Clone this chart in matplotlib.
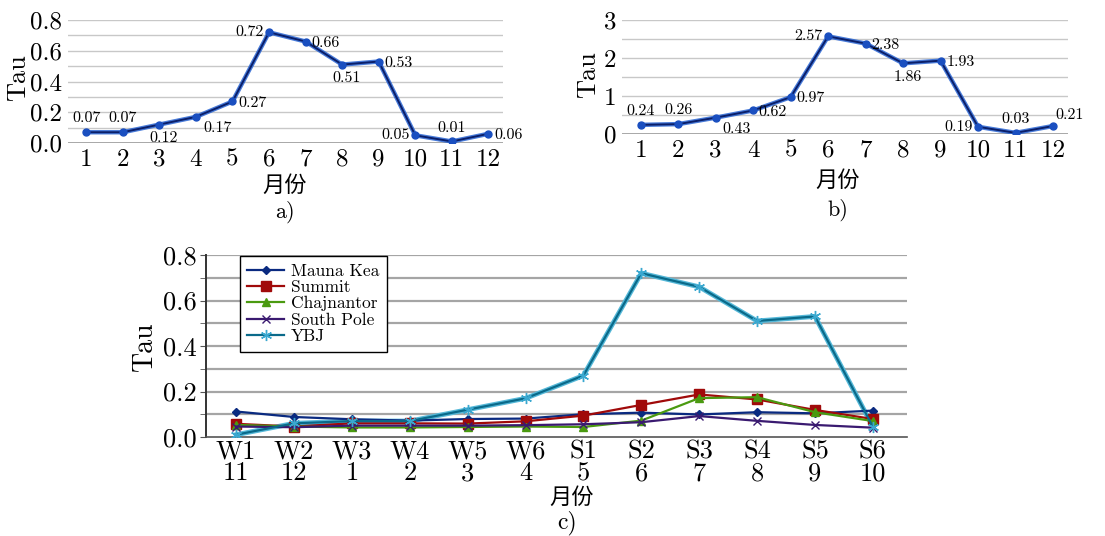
import numpy as np
import matplotlib
matplotlib.use('Agg')
import matplotlib.pyplot as plt

plt.rcParams['font.family'] = ['cmr10', 'Noto Sans CJK SC']
plt.rcParams['axes.unicode_minus'] = False
plt.rcParams['mathtext.fontset'] = 'cm'

months = [1, 2, 3, 4, 5, 6, 7, 8, 9, 10, 11, 12]
tau_a = [0.07, 0.07, 0.12, 0.17, 0.27, 0.72, 0.66, 0.51, 0.53, 0.05, 0.01, 0.06]
tau_b = [0.24, 0.26, 0.43, 0.62, 0.97, 2.57, 2.38, 1.86, 1.93, 0.19, 0.03, 0.21]
# where the value label sits for each point
label_pos = ['up', 'up', 'down', 'downright', 'right', 'left', 'right', 'down', 'right', 'left', 'up', 'right']
label_pos_b = ['up', 'up', 'downright', 'right', 'right', 'left', 'right', 'down', 'right', 'left', 'up', 'upright']

seasons = ['W1', 'W2', 'W3', 'W4', 'W5', 'W6', 'S1', 'S2', 'S3', 'S4', 'S5', 'S6']
season_months = [11, 12, 1, 2, 3, 4, 5, 6, 7, 8, 9, 10]
mauna_kea = [0.112, 0.088, 0.078, 0.072, 0.079, 0.081, 0.100, 0.107, 0.099, 0.109, 0.104, 0.116]
summit = [0.058, 0.046, 0.060, 0.060, 0.059, 0.069, 0.094, 0.141, 0.187, 0.165, 0.119, 0.079]
chajnantor = [0.053, 0.046, 0.042, 0.042, 0.044, 0.046, 0.044, 0.072, 0.171, 0.175, 0.109, 0.070]
south_pole = [0.046, 0.043, 0.050, 0.050, 0.050, 0.052, 0.056, 0.065, 0.092, 0.071, 0.053, 0.041]
ybj = [0.01, 0.06, 0.07, 0.07, 0.12, 0.17, 0.27, 0.72, 0.66, 0.51, 0.53, 0.045]

W, H = 1105, 536
fig = plt.figure(figsize=(W / 100, H / 100), dpi=100)

def px_axes(l, r, t, b):
    return fig.add_axes([l / W, 1 - b / H, (r - l) / W, (b - t) / H])

offsets = {'up': (0, 5, 'center', 'bottom'), 'down': (3, -5, 'center', 'top'),
           'downright': (5, -3, 'left', 'top'), 'right': (4, -1, 'left', 'center'),
           'left': (-4, 0, 'right', 'center'), 'upright': (2, 3, 'left', 'bottom')}

def month_panel(ax, vals, pos, ymax, ystep, ylabels, letter, xl, tx):
    ax.set_xlim(0.5, 12.4)
    ax.set_ylim(0, ymax)
    for g in np.arange(ystep, ymax + ystep / 2, ystep):
        ax.axhline(g, color='#c8c8c8', lw=1, zorder=0)
    ax.axhline(0, color='#9a9a9a', lw=1.2, zorder=0)
    ax.plot(months, vals, color='#1a5ad0', lw=3.2, zorder=2, alpha=0.8)
    ax.plot(months, vals, color='#0a1f6a', lw=1.4, marker='o', ms=5,
            mfc='#1a4fc0', mec='#1a4fc0', zorder=3)
    for m, v, p in zip(months, vals, pos):
        dx, dy, ha, va = offsets[p]
        ax.annotate('%.2f' % v, (m, v), xytext=(dx, dy), textcoords='offset points',
                    ha=ha, va=va, fontsize=11.5)
    for s in ['top', 'right', 'left', 'bottom']:
        ax.spines[s].set_visible(False)
    ax.set_xticks(months)
    ax.set_yticks(ylabels)
    ax.set_yticklabels(ylabels if isinstance(ylabels[0], int) else ['%.1f' % y for y in ylabels])
    ax.tick_params(length=0, labelsize=18, pad=4)
    fig.text(tx / W, 1 - xl[0] / H, '月份', ha='center', va='center', fontsize=16,
             family='Noto Sans CJK SC', fontweight='light')
    fig.text(tx / W, 1 - xl[1] / H, letter, ha='center', va='center', fontsize=16)

ax_a = px_axes(68, 503, 20, 143)
month_panel(ax_a, tau_a, label_pos, 0.8, 0.1, [0.0, 0.2, 0.4, 0.6, 0.8], 'a)', (185, 212), 285)
fig.text(18 / W, 1 - 78 / H, 'Tau', rotation=90, ha='center', va='center', fontsize=19)

ax_b = px_axes(622, 1068, 20, 134)
month_panel(ax_b, tau_b, label_pos_b, 3, 0.5, [0, 1, 2, 3], 'b)', (180, 210), 838)
fig.text(588 / W, 1 - 75 / H, 'Tau', rotation=90, ha='center', va='center', fontsize=19)

# panel c
ax_c = px_axes(206, 907, 255, 437)
x = np.arange(len(seasons))
ax_c.set_xlim(-0.52, 11.59)
ax_c.set_ylim(0, 0.8)
for g in np.arange(0.1, 0.85, 0.1):
    ax_c.axhline(g, color='#a5a5a5', lw=1.6, zorder=0)
ax_c.plot(x, ybj, color='#55b8d8', lw=3.5, zorder=2)
ax_c.plot(x, mauna_kea, color='#0a2a80', lw=1.6, marker='D', ms=4.5, label='Mauna Kea', zorder=3)
ax_c.plot(x, summit, color='#a00a0a', lw=1.6, marker='s', ms=7, label='Summit', zorder=3)
ax_c.plot(x, chajnantor, color='#4a9a10', lw=1.6, marker='^', ms=6, label='Chajnantor', zorder=3)
ax_c.plot(x, south_pole, color='#3a1a70', lw=1.6, marker='x', ms=6, label='South Pole', zorder=3)
ax_c.plot(x, ybj, color='#0a6a8a', lw=1.6, marker=(6, 2, 0), ms=8, mec='#3aa8d0',
          label='YBJ', zorder=4)
ax_c.set_xticks(x)
ax_c.set_xticklabels(['%s\n%d' % (s, m) for s, m in zip(seasons, season_months)],
                     linespacing=0.9)
ax_c.set_yticks([0.0, 0.2, 0.4, 0.6, 0.8])
ax_c.set_yticklabels(['0.0', '0.2', '0.4', '0.6', '0.8'])
ax_c.set_yticks(np.arange(0.1, 0.8, 0.2), minor=True)
ax_c.tick_params(axis='y', which='both', direction='out', length=4, color='#555555',
                 labelsize=19, pad=3)
ax_c.tick_params(axis='x', length=0, labelsize=19, pad=2)
for s in ['top', 'right']:
    ax_c.spines[s].set_visible(False)
ax_c.spines['left'].set_color('#333333')
ax_c.spines['left'].set_linewidth(1.4)
ax_c.spines['bottom'].set_color('#555555')
ax_c.spines['bottom'].set_linewidth(1.2)
leg = ax_c.legend(loc='upper left', bbox_to_anchor=(0.048, 0.995), fontsize=12.5,
                  fancybox=False, framealpha=1, edgecolor='black', handlelength=2.1,
                  borderpad=0.45, labelspacing=0.05, handletextpad=0.4, borderaxespad=0)
leg.get_frame().set_linewidth(1.0)
fig.text(145 / W, 1 - 346 / H, 'Tau', rotation=90, ha='center', va='center', fontsize=20)
fig.text(572 / W, 1 - 497 / H, '月份', ha='center', va='center', fontsize=16,
         family='Noto Sans CJK SC', fontweight='light')
fig.text(567 / W, 1 - 523 / H, 'c)', ha='center', va='center', fontsize=17)

fig.savefig('out.png', dpi=100)
